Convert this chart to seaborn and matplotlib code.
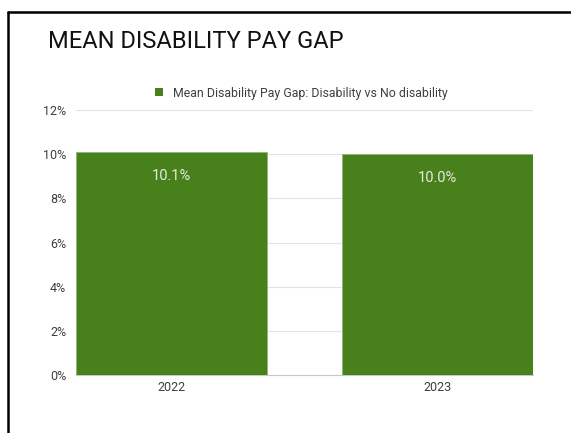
import matplotlib
matplotlib.use("Agg")
import matplotlib.pyplot as plt
import seaborn as sns
import pandas as pd
from matplotlib.lines import Line2D
from matplotlib.patches import Patch
from matplotlib.ticker import FuncFormatter

years = ["2022", "2023"]
pay_gap = [10.1, 10.0]
series_name = "Mean Disability Pay Gap: Disability vs No disability"
title = "MEAN DISABILITY PAY GAP"

sns.set_style("white")
plt.rcParams["font.family"] = ["Roboto", "DejaVu Sans"]

df = pd.DataFrame({"year": years, "gap": pay_gap})
bar_color = "#48811c"

fig = plt.figure(figsize=(5.71, 4.33), dpi=100)
ax = fig.add_axes([76 / 571, 1 - 375 / 433, (533 - 76) / 571, (375 - 110) / 433])

sns.barplot(data=df, x="year", y="gap", color=bar_color, width=0.72,
            saturation=1, ax=ax, zorder=3)
for p in ax.patches:
    p.set_edgecolor("#8fb772")
    p.set_linewidth(0.6)

ax.set_xlim(-0.36, 1.36)
ax.set_ylim(0, 12)
ax.set_yticks([0, 2, 4, 6, 8, 10, 12])
ax.yaxis.set_major_formatter(FuncFormatter(lambda v, _: f"{v:.0f}%"))
ax.grid(axis="y", color="#e3e3e3", linewidth=0.8, zorder=0)
ax.set_xlabel("")
ax.set_ylabel("")
for side in ["top", "right", "left"]:
    ax.spines[side].set_visible(False)
ax.spines["bottom"].set_color("#c4c7cc")
ax.tick_params(axis="both", length=0, labelsize=9, colors="#3c4043", pad=7)
ax.tick_params(axis="x", pad=4)

for i, v in enumerate(pay_gap):
    ax.annotate(f"{v:.1f}%", (i, v), xytext=(0, -17), textcoords="offset points",
                ha="center", va="center", color="#e6eadf", fontsize=10.5)

fig.text(48 / 571, 1 - 41 / 433, title, fontsize=17, color="#111111",
         ha="left", va="center")

handle = Patch(facecolor=bar_color, edgecolor="none")
fig.legend([handle], [series_name], loc="center", bbox_to_anchor=(0.528, 1 - 93 / 433),
           frameon=False, fontsize=8.9, handlelength=0.6, handleheight=0.6,
           handletextpad=0.8, labelcolor="#3c4043")

# screenshot frame (top and left edges)
fig.add_artist(Line2D([7.5 / 571, 7.5 / 571], [0, 1 - 12 / 433], color="black",
                      linewidth=1.8, transform=fig.transFigure))
fig.add_artist(Line2D([7.5 / 571, 1], [1 - 12 / 433, 1 - 12 / 433], color="black",
                      linewidth=1.8, transform=fig.transFigure))

fig.savefig("out.png", dpi=100)
